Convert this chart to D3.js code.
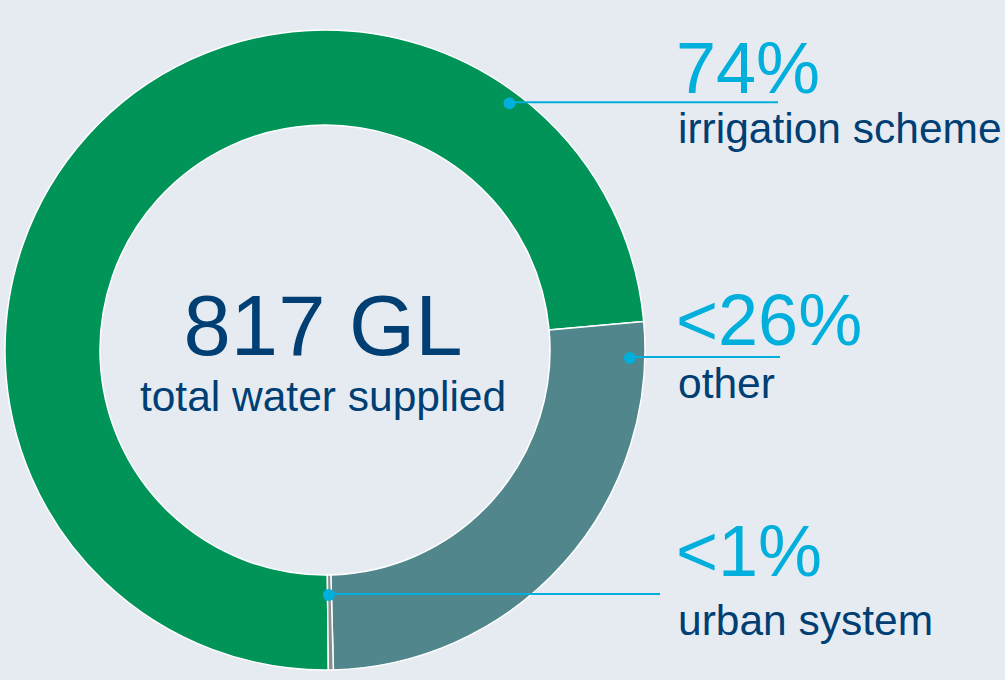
<!DOCTYPE html>
<html>
<head>
<meta charset="utf-8">
<script src="https://cdn.jsdelivr.net/npm/d3@7"></script>
<style>
  body { margin: 0; background: #e6ebf2; }
  svg { display: block; }
</style>
</head>
<body>
<svg id="chart" width="1005" height="680"></svg>
<script>
// share of 817 GL supplied (percent)
const categories = ["irrigation scheme", "other", "urban system"];
const shares = [73.75, 26.0, 0.25];
const pctLabels = ["74%", "<26%", "<1%"];
const colors = ["#009458", "#51878c", "#8c8c8c"];

// where each leader starts (degrees clockwise from top, radius) and ends
const leaderAngle = [36.8, 91.5, 179.1];
const leaderRadius = [308, 305, 245];
const leaderEndX = [778, 780, 660];
const pctOffset = [-10, -13, -19];

const svg = d3.select("#chart")
  .attr("font-family", "'Liberation Sans', Arial, sans-serif")
const cx = 325, cy = 350;
const outerR = 320, innerR = 225;
const rot = -0.6 * Math.PI / 180; // ring is turned a touch anticlockwise

const pie = d3.pie()
  .sort(null)
  .value(d => d)
  .startAngle(Math.PI + rot)
  .endAngle(3 * Math.PI + rot);

const arc = d3.arc()
  .innerRadius(innerR)
  .outerRadius(outerR);

const g = svg.append("g")
  .attr("transform", `translate(${cx},${cy})`);

g.selectAll("path")
  .data(pie(shares))
  .enter()
  .append("path")
    .attr("d", arc)
    .attr("fill", (d, i) => colors[i])
    .attr("stroke", "#fff")
    .attr("stroke-width", 1.5);

// centre text
g.append("text")
  .attr("text-anchor", "middle")
  .attr("x", -2)
  .attr("y", 5)
  .attr("font-size", 85)
  .attr("fill", "#003f73")
  .text("817 GL");
g.append("text")
  .attr("text-anchor", "middle")
  .attr("x", -2)
  .attr("y", 61)
  .attr("font-size", 42.5)
  .attr("fill", "#003f73")
  .text("total water supplied");

// leaders + labels
const labels = svg.append("g");
categories.forEach((name, i) => {
  const a = leaderAngle[i] * Math.PI / 180;
  const x = cx + leaderRadius[i] * Math.sin(a);
  const y = cy - leaderRadius[i] * Math.cos(a);
  const lg = labels.append("g");
  lg.append("line")
    .attr("x1", x).attr("y1", y - 1)
    .attr("x2", leaderEndX[i]).attr("y2", y - 1)
    .attr("stroke", "#00afdb")
    .attr("stroke-width", 2);
  lg.append("circle")
    .attr("cx", x).attr("cy", y)
    .attr("r", 6)
    .attr("fill", "#00afdb");
  lg.append("text")
    .attr("x", 676)
    .attr("y", y + pctOffset[i])
    .attr("font-size", 72)
    .attr("fill", "#00afdb")
    .text(pctLabels[i]);
  lg.append("text")
    .attr("x", 678)
    .attr("y", y + 40)
    .attr("font-size", 42.5)
    .attr("fill", "#003f73")
    .text(name);
});
</script>
</body>
</html>
